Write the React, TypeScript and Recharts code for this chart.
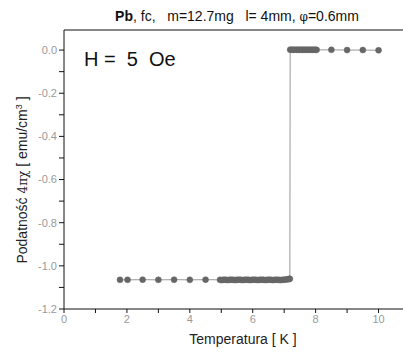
import React from 'react';
import { LineChart, Line, XAxis, YAxis } from 'recharts';

// field-cooled susceptibility, lower (superconducting) branch
const lowerT = [
  1.78, 2.02, 2.5, 3.0, 3.5, 4.0, 4.5,
  4.96, 5.02, 5.08, 5.14, 5.2, 5.26, 5.32, 5.38, 5.44, 5.5,
  5.56, 5.62, 5.68, 5.74, 5.8, 5.86, 5.92, 5.98, 6.04, 6.1,
  6.16, 6.22, 6.28, 6.34, 6.4, 6.46, 6.52, 6.58, 6.64, 6.7,
  6.76, 6.82, 6.88, 6.94, 7.0, 7.06, 7.12, 7.16, 7.18,
];
const lowerChi = [
  -1.065, -1.065, -1.064, -1.065, -1.064, -1.065, -1.064,
  -1.065, -1.066, -1.064, -1.065, -1.066, -1.065, -1.064, -1.065, -1.066, -1.065,
  -1.064, -1.065, -1.066, -1.065, -1.064, -1.065, -1.066, -1.065, -1.064, -1.065,
  -1.066, -1.065, -1.064, -1.065, -1.066, -1.065, -1.064, -1.065, -1.066, -1.065,
  -1.064, -1.065, -1.066, -1.065, -1.064, -1.063, -1.062, -1.061, -1.06,
];

// normal state branch
const upperT = [
  7.19, 7.24, 7.29, 7.34, 7.39, 7.44, 7.49, 7.54, 7.59, 7.64,
  7.69, 7.74, 7.79, 7.84, 7.89, 7.94, 7.99, 8.03,
  8.5, 9.0, 9.5, 10.0,
];
const upperChi = [
  0.002, 0.002, 0.001, 0.002, 0.001, 0.002, 0.001, 0.002, 0.001, 0.002,
  0.001, 0.002, 0.001, 0.002, 0.001, 0.002, 0.001, 0.001,
  0.001, 0.0, 0.0, -0.001,
];

const xTicks = [0, 1, 2, 3, 4, 5, 6, 7, 8, 9, 10, 11];
const yTicks = [-1.2, -1.1, -1.0, -0.9, -0.8, -0.7, -0.6, -0.5, -0.4, -0.3, -0.2, -0.1, 0.0];

const data = [
  ...lowerT.map((t, i) => ({ t, chi: lowerChi[i] })),
  ...upperT.map((t, i) => ({ t, chi: upperChi[i] })),
];

const FONT = '"Liberation Sans", Arial, sans-serif';

export default function App() {
  return (
    <div
      style={{
        position: 'fixed',
        left: 0,
        top: 0,
        width: 403,
        height: 353,
        overflow: 'hidden',
        background: '#fff',
        fontFamily: FONT,
      }}
    >
      <LineChart
        width={410}
        height={353}
        data={data}
        margin={{ top: 0, right: 0, left: 0, bottom: 0 }}
      >
        <XAxis
          xAxisId="bottom"
          dataKey="t"
          type="number"
          domain={[0, 11]}
          ticks={xTicks}
          height={44}
          stroke="#111"
          tickSize={4}
          tick={{ fill: '#999', fontSize: 11, fontFamily: FONT }}
          tickFormatter={(v: number) => (v % 2 === 0 ? String(v) : '')}
        />
        <XAxis
          xAxisId="top"
          orientation="top"
          dataKey="t"
          type="number"
          domain={[0, 11]}
          ticks={xTicks}
          height={30}
          stroke="#111"
          tickSize={-4}
          tick={false}
        />
        <YAxis
          dataKey="chi"
          type="number"
          domain={[-1.2, 0.093]}
          ticks={yTicks}
          width={64}
          stroke="#111"
          tickSize={5}
          tick={{ fill: '#999', fontSize: 11, fontFamily: FONT }}
          tickFormatter={(v: number) => {
            const k = Math.round(v * 10);
            return k % 2 === 0 ? (k / 10).toFixed(1) : '';
          }}
        />
        <Line
          xAxisId="bottom"
          dataKey="chi"
          type="linear"
          stroke="#999"
          strokeWidth={1}
          dot={{ r: 3, fill: '#666', stroke: '#666', strokeWidth: 0.5 }}
          isAnimationActive={false}
        />
      </LineChart>

      <div
        style={{
          position: 'absolute',
          left: 237,
          top: 8,
          transform: 'translateX(-50%)',
          whiteSpace: 'pre',
          fontSize: 14,
          color: '#111',
        }}
      >
        <b>Pb</b>, fc,   m=12.7mg   l= 4mm, <span style={{ fontFamily: '"DejaVu Serif", serif', fontSize: 12 }}>φ</span>=0.6mm
      </div>

      <div
        style={{
          position: 'absolute',
          left: 84,
          top: 48,
          whiteSpace: 'pre',
          fontSize: 20,
          color: '#111',
        }}
      >
        H =  5  Oe
      </div>

      <div
        style={{
          position: 'absolute',
          left: 22,
          top: 180,
          transform: 'translate(-50%, -50%) rotate(-90deg)',
          whiteSpace: 'pre',
          fontSize: 14,
          color: '#222',
        }}
      >
        Podatność <span style={{ fontFamily: '"DejaVu Serif", serif', fontSize: 12 }}>4πχ</span> [ emu/cm<sup style={{ fontSize: 9 }}>3</sup> ]
      </div>

      <div
        style={{
          position: 'absolute',
          left: 243,
          top: 331,
          transform: 'translateX(-50%)',
          whiteSpace: 'pre',
          fontSize: 14,
          color: '#222',
        }}
      >
        Temperatura [ K ]
      </div>
    </div>
  );
}
